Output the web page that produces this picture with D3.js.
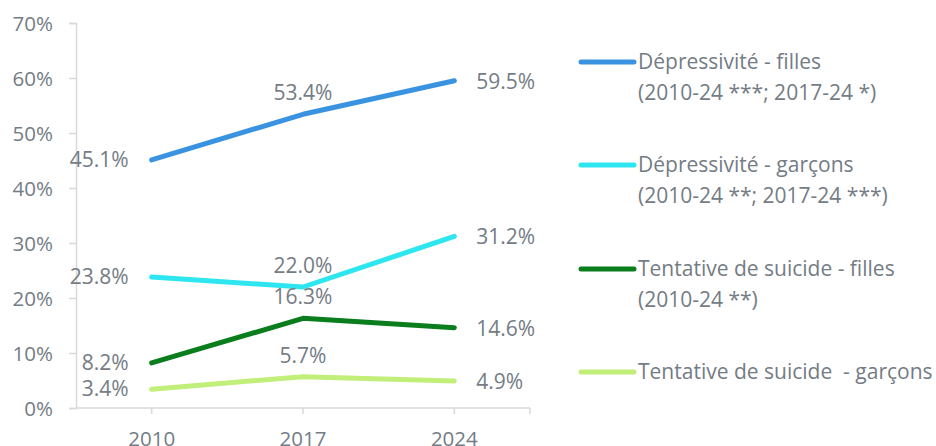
<!DOCTYPE html>
<html>
<head>
<meta charset="utf-8">
<script src="https://cdn.jsdelivr.net/npm/d3@7"></script>
<style>
  body { margin: 0; background: #fff; }
  text { font-family: "Open Sans", sans-serif; fill: #747c85; }
</style>
</head>
<body>
<script>
var years = ["2010", "2017", "2024"];
var seriesNames = [
    ["Dépressivité - filles", "(2010-24 ***; 2017-24 *)"],
    ["Dépressivité - garçons", "(2010-24 **; 2017-24 ***)"],
    ["Tentative de suicide - filles", "(2010-24 **)"],
    ["Tentative de suicide  - garçons"]
];
var seriesColors = ["#3a93e0", "#2de6ef", "#0a7d1c", "#c2ef7a"];
var deprFilles = [45.1, 53.4, 59.5];
var deprGarcons = [23.8, 22.0, 31.2];
var tsFilles = [8.2, 16.3, 14.6];
var tsGarcons = [3.4, 5.7, 4.9];
var yTicks = [0, 10, 20, 30, 40, 50, 60, 70];

var allSeries = [deprFilles, deprGarcons, tsFilles, tsGarcons];

var width = 936, height = 446;
var plotLeft = 76, plotRight = 530, plotTop = 23, plotBottom = 408;

var svg = d3.select("body").append("svg")
    .attr("width", width)
    .attr("height", height);

var x = d3.scaleBand().domain(years).range([plotLeft, plotRight]);
var y = d3.scaleLinear().domain([0, 70]).range([plotBottom, plotTop]);
var cx = function (d) { return x(d) + x.bandwidth() / 2; };

//y axis
var yAxis = svg.append("g")
    .attr("transform", "translate(" + plotLeft + ",0)")
    .call(d3.axisLeft(y).tickValues(yTicks).tickSize(7).tickFormat(function (d) { return d + "%"; }));
yAxis.select(".domain").attr("stroke", "#d9d9d9").attr("stroke-width", 1.5);
yAxis.selectAll(".tick line").attr("stroke", "#d9d9d9").attr("stroke-width", 1.5);
yAxis.selectAll(".tick text")
    .attr("x", -23)
    .attr("dy", "0.35em")
    .style("font-size", "20.5px")
    .style("font-family", "'Open Sans', sans-serif")
    .attr("fill", "#747c85");

//x axis
var xAxis = svg.append("g")
    .attr("transform", "translate(0," + plotBottom + ")");
xAxis.append("line")
    .attr("x1", plotLeft).attr("x2", plotRight)
    .attr("stroke", "#d9d9d9").attr("stroke-width", 1.5);
xAxis.selectAll(".xtick")
    .data(years.map(cx).concat([plotRight]))
    .enter().append("line")
    .attr("x1", function (d) { return d; })
    .attr("x2", function (d) { return d; })
    .attr("y1", 0).attr("y2", 6)
    .attr("stroke", "#d9d9d9").attr("stroke-width", 1.5);
xAxis.selectAll(".xlabel")
    .data(years)
    .enter().append("text")
    .attr("x", cx)
    .attr("y", 38)
    .attr("text-anchor", "middle")
    .style("font-size", "20.5px")
    .text(function (d) { return d; });

//lines
var line = d3.line()
    .x(function (d, i) { return cx(years[i]); })
    .y(function (d) { return y(d); });

allSeries.forEach(function (s, k) {
    svg.append("path")
        .attr("d", line(s))
        .attr("fill", "none")
        .attr("stroke", seriesColors[k])
        .attr("stroke-width", 5)
        .attr("stroke-linecap", "round")
        .attr("stroke-linejoin", "round");

    //data labels: left, above, right
    s.forEach(function (v, i) {
        var t = svg.append("text")
            .style("font-size", "21px")
            .text(v.toFixed(1) + "%");
        if (i === 0) {
            t.attr("x", cx(years[i]) - 23).attr("y", y(v) + 7).attr("text-anchor", "end");
        } else if (i === 1) {
            t.attr("x", cx(years[i])).attr("y", y(v) - 14).attr("text-anchor", "middle");
        } else {
            t.attr("x", cx(years[i]) + 22).attr("y", y(v) + 8).attr("text-anchor", "start");
        }
    });
});

//legend
var legendY = [62, 165, 269, 372];
seriesNames.forEach(function (lines, k) {
    var g = svg.append("g").attr("transform", "translate(0," + legendY[k] + ")");
    g.append("line")
        .attr("x1", 581).attr("x2", 634)
        .attr("stroke", seriesColors[k])
        .attr("stroke-width", 5)
        .attr("stroke-linecap", "round");
    lines.forEach(function (l, j) {
        g.append("text")
            .attr("x", 638)
            .attr("y", 7 + j * 30.5)
            .style("font-size", "21px")
            .style("white-space", "pre")
            .text(l);
    });
});
</script>
</body>
</html>
